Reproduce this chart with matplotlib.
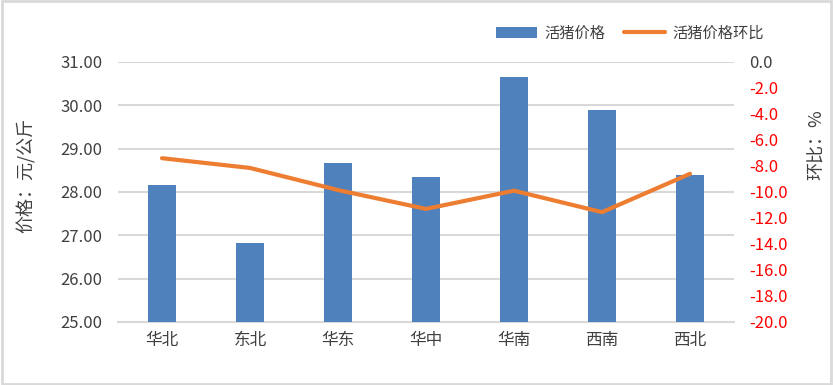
import matplotlib
matplotlib.use("Agg")
import matplotlib.pyplot as plt
from matplotlib.patches import Rectangle

plt.rcParams['font.family'] = ['Noto Sans CJK SC', 'DejaVu Sans']

categories = ['华北', '东北', '华东', '华中', '华南', '西南', '西北']
prices = [28.16, 26.82, 28.67, 28.35, 30.65, 29.89, 28.39]
mom = [-7.4, -8.15, -9.85, -11.3, -9.9, -11.55, -8.6]
left_ticks = [25, 26, 27, 28, 29, 30, 31]
right_ticks = [0, -2, -4, -6, -8, -10, -12, -14, -16, -18, -20]

W, H = 833, 385
fig = plt.figure(figsize=(W / 100, H / 100), dpi=100)
ax = fig.add_axes([118 / W, 1 - 322 / H, (734 - 118) / W, (322 - 62) / H])

x = list(range(len(categories)))
bars = ax.bar(x, prices, width=0.32, color='#4f81bd', zorder=3, label='活猪价格')
ax.set_ylim(25, 31)
ax.set_xlim(-0.5, len(categories) - 0.5)
ax.set_yticks(left_ticks)
ax.set_yticklabels([f'{v:.2f}' for v in left_ticks], color='#404040', fontsize=12)
ax.set_xticks(x)
ax.set_xticklabels(categories, fontsize=12, color='#404040')
ax.tick_params(axis='x', length=0, pad=7)
ax.tick_params(axis='y', length=0, pad=11)
ax.yaxis.grid(True, color='#d9d9d9', linewidth=1.5, zorder=0)
for s in ['top', 'right', 'left']:
    ax.spines[s].set_visible(False)
ax.spines['bottom'].set_color('#d9d9d9')
ax.spines['bottom'].set_linewidth(1.5)
ax.set_ylabel('价格：元/公斤', fontsize=13, color='#404040')
ax.yaxis.set_label_coords((36 - 118) / (734 - 118), (322 - 175) / 260)

ax2 = ax.twinx()
line, = ax2.plot(x, mom, color='#ed7d31', linewidth=3, solid_capstyle='round', zorder=4, label='活猪价格环比')
ax2.set_ylim(-20, 0)
ax2.set_yticks(right_ticks)
ax2.set_yticklabels([f'{v:.1f}' for v in right_ticks], fontsize=12)
for lbl, v in zip(ax2.get_yticklabels(), right_ticks):
    lbl.set_color('#404040' if v == 0 else '#ff0000')
ax2.tick_params(axis='y', length=0, pad=11)
for s in ['top', 'right', 'left', 'bottom']:
    ax2.spines[s].set_visible(False)
ax2.set_ylabel('环比：%', fontsize=13, color='#404040')
ax2.yaxis.set_label_coords((808 - 118) / (734 - 118), (322 - 145) / 260)

fig.legend(handles=[bars, line], loc='center', bbox_to_anchor=(630 / W, 1 - 33 / H),
           ncol=2, frameon=False, fontsize=11, handlelength=2.7, handletextpad=0.5,
           columnspacing=1.2, labelcolor='#404040')

fig.patches.append(Rectangle((0.002, 0.003), 0.996, 0.994, transform=fig.transFigure,
                             fill=False, edgecolor='#d9d9d9', linewidth=2))

fig.savefig('out.png', dpi=100)
